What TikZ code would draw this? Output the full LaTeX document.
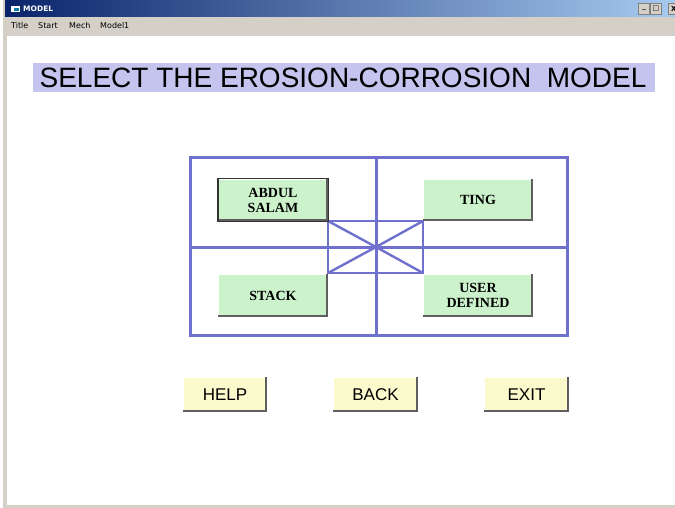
\documentclass[tikz,border=0pt]{standalone}
\usepackage{fontspec}
\setmainfont{Liberation Sans}
\newfontfamily\btnserif{Liberation Serif}
\newfontfamily\uifont{DejaVu Sans}
\definecolor{framegray}{RGB}{212,208,200}
\definecolor{capdark}{RGB}{10,36,106}
\definecolor{caplight}{RGB}{166,202,240}
\definecolor{bandlav}{RGB}{196,196,238}
\definecolor{gridblue}{RGB}{112,112,206}
\definecolor{btngreen}{RGB}{204,242,204}
\definecolor{btnyellow}{RGB}{250,250,204}
\definecolor{btnshadow}{RGB}{95,95,95}
\tikzset{
  gbtn/.style={fill=btngreen, minimum width=110pt, minimum height=42pt, inner sep=0pt,
    align=center, font=\btnserif\bfseries\fontsize{14}{15}\selectfont},
  ybtn/.style={fill=btnyellow, minimum width=84pt, minimum height=35pt, inner sep=0pt,
    font=\fontsize{17}{18}\selectfont},
  gridline/.style={draw=gridblue, line width=3pt},
  thinline/.style={draw=gridblue, line width=2.4pt},
  shadowline/.style={draw=btnshadow, line width=2.2pt},
  hiline/.style={draw=white, line width=1pt},
  menuitem/.style={font=\uifont\fontsize{8}{9}\selectfont, inner sep=0pt, anchor=west},
  winbtn/.style={fill=framegray, draw=gray, line width=0.5pt, minimum width=11pt, minimum height=11pt, inner sep=0pt,
    font=\uifont\bfseries\fontsize{7}{7}\selectfont},
}
\begin{document}
\begin{tikzpicture}[x=1pt,y=-1pt]
\useasboundingbox (0,0) rectangle (675,508);
\fill[white] (0,0) rectangle (675,508);

% window frame and client area
\fill[framegray] (3,0) rectangle (675,508);
\fill[white] (7,36) rectangle (675,505);

% caption bar
\shade[left color=capdark, right color=caplight] (5,1) rectangle (675,17);
\node[fill=white, minimum width=9pt, minimum height=6pt, inner sep=0pt] (icon) at (15,9) {};
\node[fill=capdark!60!cyan, minimum width=5pt, minimum height=3pt, inner sep=0pt] (iconin) at (16,10) {};
\node[font=\uifont\bfseries\fontsize{7.5}{8}\selectfont, text=white, anchor=west, inner sep=0pt] (caption) at (23,9) {MODEL};
\node[winbtn] (minbtn) at (644,9) {\_};
\node[winbtn] (maxbtn) at (656,9) {□};
\node[winbtn, anchor=west] (closebtn) at (668,9) {X};

% menu bar
\node[menuitem] (mtitle) at (11,26) {Title};
\node[menuitem] (mstart) at (38,26) {Start};
\node[menuitem] (mmech) at (69,26) {Mech};
\node[menuitem] (mmodel) at (100,26) {Model1};

% heading band
\fill[bandlav] (33,63) rectangle (655,92);
\node[font=\fontsize{28}{30}\selectfont, inner sep=0pt] (heading) at (343,77.5)
  {SELECT THE EROSION-CORROSION\ \ MODEL};

% selection grid
\draw[gridline] (190,158) rectangle (567,335);
\draw[gridline] (376,158) -- (376,335);
\draw[gridline] (190,247) -- (567,247);
\draw[thinline] (328,221) rectangle (423,273);
\coordinate (hub) at (376,247);
\draw[thinline] (328,221) -- (hub) -- (423,273);
\draw[thinline] (423,221) -- (hub) -- (328,273);

% model buttons
\node[gbtn] (abdul) at (273,200) {ABDUL\\SALAM};
\node[gbtn] (ting) at (478,200) {TING};
\node[gbtn] (stack) at (273,295.5) {STACK};
\node[gbtn] (user) at (478,295.5) {USER\\DEFINED};

% command buttons
\node[ybtn] (help) at (225,394.5) {HELP};
\node[ybtn] (back) at (375.5,394.5) {BACK};
\node[ybtn] (exit) at (526.5,394.5) {EXIT};

% raised edges of all buttons
\foreach \b in {abdul,ting,stack,user,help,back,exit}{
  \draw[hiline] ([shift={(0.5pt,0.5pt)}]\b.south west) -- ([shift={(0.5pt,-0.5pt)}]\b.north west) -- ([shift={(-0.5pt,-0.5pt)}]\b.north east);
  \draw[shadowline] ([shift={(-1pt,0pt)}]\b.north east) -- ([shift={(-1pt,1pt)}]\b.south east) -- ([shift={(0pt,1pt)}]\b.south west);
}
% focus outline on the first model
\draw[black!80, line width=1.4pt] (abdul.south west) rectangle (abdul.north east);
\end{tikzpicture}
\end{document}
